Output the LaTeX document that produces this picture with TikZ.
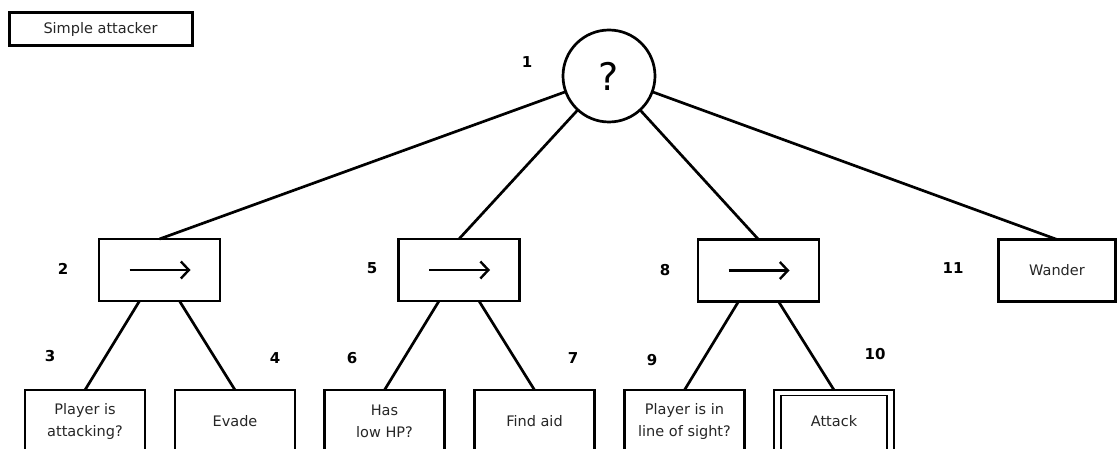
\documentclass[tikz,border=0pt]{standalone}
\usepackage{fontspec}
\setmainfont{DejaVu Sans}
\usetikzlibrary{arrows.meta}
\begin{document}
\begin{tikzpicture}[x=1pt,y=-1pt,
  every node/.style={inner sep=0pt, outer sep=0pt},
  frame/.style={draw, line width=2.7pt, text=black!85},
  seqbox/.style={frame, minimum width=121pt, minimum height=62pt},
  leafbox/.style={frame, minimum width=120pt, minimum height=62pt, align=center,
     font=\fontsize{14.5}{22}\selectfont},
  num/.style={font=\fontsize{15}{16}\selectfont\bfseries},
  conn/.style={line width=2.7pt},
  seqarrow/.style={line width=2.4pt, -{Straight Barb[length=8pt,width=17pt,line width=2.4pt]}}
]
\useasboundingbox (0,0) rectangle (1117,449);
\fill[white] (0,0) rectangle (1117,449);

% title
\node[frame, line width=3pt, minimum width=183pt, minimum height=33pt,
      font=\fontsize{14.5}{16}\selectfont] (title) at (100.5,29.5) {Simple attacker};

% root selector
\node[draw, circle, line width=2.7pt, minimum size=92pt,
      font=\fontsize{38}{40}\selectfont] (root) at (609,76) {?};

% sequence nodes
\node[seqbox] (s2) at (159.5,270) {};
\node[seqbox] (s5) at (459,270) {};
\node[seqbox] (s8) at (758.5,270.5) {};
\node[seqbox, minimum width=117pt, font=\fontsize{14.5}{16}\selectfont] (w11) at (1057,270.5) {Wander};

\foreach \s in {s2,s5,s8}{
  \draw[seqarrow] ([xshift=-30pt]\s.center) -- ([xshift=31pt]\s.center);
}

% leaves
\node[leafbox] (l3) at (85,421) {Player is\\attacking?};
\node[leafbox] (l4) at (235,421) {Evade};
\node[leafbox] (l6) at (384.5,421) {Has\\low HP?};
\node[leafbox] (l7) at (534.5,421) {Find aid};
\node[leafbox] (l9) at (684.5,421) {Player is in\\line of sight?};
\node[leafbox] (l10) at (834,421) {Attack};
\draw[line width=1.6pt] (781,395.5) rectangle (887,460);

% connectors
\draw[conn] (root) -- (s2.north);
\draw[conn] (root) -- (s5.north);
\draw[conn] (root) -- (s8.north);
\draw[conn] (root) -- (w11.north);
\foreach \p/\a/\b in {s2/l3/l4, s5/l6/l7, s8/l9/l10}{
  \draw[conn] ([xshift=-20pt]\p.south) -- (\a.north);
  \draw[conn] ([xshift=20pt]\p.south) -- (\b.north);
}

% numbers
\node[num] (n1) at (527,62) {1};
\node[num] (n2) at (63,269) {2};
\node[num] (n3) at (50,356) {3};
\node[num] (n4) at (275,358) {4};
\node[num] (n5) at (372,268) {5};
\node[num] (n6) at (352,358) {6};
\node[num] (n7) at (573,358) {7};
\node[num] (n8) at (665,270) {8};
\node[num] (n9) at (652,360) {9};
\node[num] (n10) at (875,354) {10};
\node[num] (n11) at (953,268) {11};
\end{tikzpicture}
\end{document}
